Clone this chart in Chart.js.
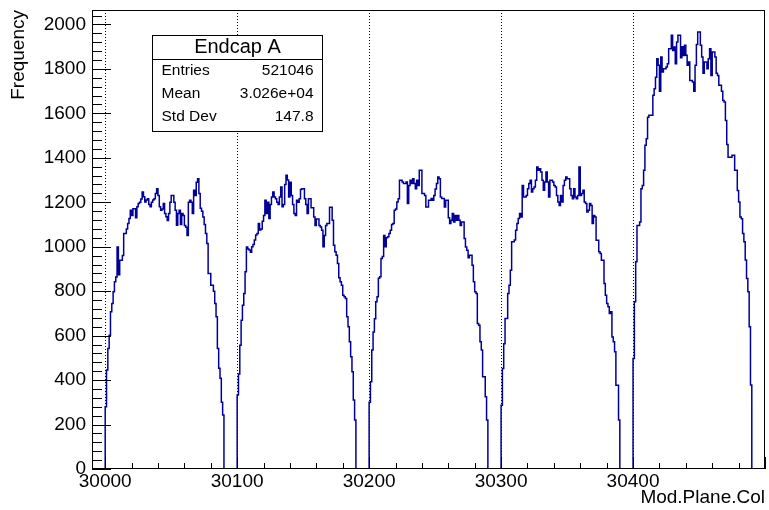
<!DOCTYPE html>
<html>
<head>
<meta charset="utf-8">
<title>Endcap A</title>
<script src="https://cdn.jsdelivr.net/npm/chart.js@4"></script>
<style>
  body { margin: 0; background: #fff; }
  #wrap { width: 769px; height: 510px; }
</style>
</head>
<body>
<div id="wrap"><canvas id="histChart" width="769" height="510"></canvas></div>
<script>
// one bin per column, 90 filled bins per module then 10 empty ones
const moduleStarts = [30000, 30100, 30200, 30300, 30400];

const module1 = [280, 445, 542, 602, 707, 745, 797, 842, 864, 999,
  874, 939, 939, 960, 1059, 1059, 1080, 1104, 1127, 1164,
  1140, 1171, 1171, 1130, 1180, 1194, 1200, 1215, 1246, 1225,
  1201, 1210, 1216, 1190, 1180, 1200, 1210, 1216, 1240, 1261,
  1230, 1180, 1164, 1170, 1194,
  1150, 1135, 1118, 1150, 1200, 1231, 1231, 1200, 1164, 1097,
  1150, 1164, 1100, 1150, 1140, 1095, 1088, 1051, 1200, 1209,
  1200, 1150, 1254, 1230, 1290, 1306, 1240, 1173, 1160, 1134,
  1100, 1059, 1014, 879, 879, 827, 827, 800, 745, 685,
  542, 453, 408, 300, 243];

const module2 = [333, 427, 557, 669, 737, 790, 887, 999, 990, 985,
  975, 1000, 1010, 1030, 1053, 1060, 1104, 1075, 1080, 1115,
  1141, 1209, 1150, 1200, 1127, 1190, 1224, 1246, 1224, 1216,
  1200, 1190, 1224, 1269, 1180, 1190, 1280, 1321, 1300, 1224,
  1290, 1230, 1190, 1149, 1140, 1209,
  1200, 1216, 1257, 1261, 1261, 1216, 1190, 1150, 1216, 1216,
  1175, 1175, 1134, 1096, 1125, 1125, 1096, 1089, 1074, 1000,
  1051, 1096, 1104, 1104, 1178, 1178, 1119, 1007, 977, 962,
  925, 860, 842, 827, 782, 775, 767, 685, 640, 572,
  505, 437, 310, 220];

const module3 = [300, 392, 535, 616, 676, 752, 775, 858, 865, 947,
  956, 1050, 1000, 1040, 1045, 1060, 1074, 1100, 1104, 1164,
  1170, 1201, 1216, 1299, 1299, 1291, 1284, 1284, 1291, 1194,
  1276, 1299, 1284, 1306, 1284, 1261, 1299, 1276, 1344, 1344,
  1239, 1239, 1231, 1179, 1179, 1209,
  1209, 1217, 1209, 1231, 1260, 1284, 1314, 1306, 1224, 1217,
  1217, 1179, 1209, 1209, 1130, 1104, 1119, 1149, 1111, 1141,
  1119, 1141, 1119, 1095, 1111, 1111, 1037, 999, 984, 950,
  962, 962, 917, 842, 797, 790, 655, 647, 572, 535,
  415, 415, 325, 220];

const module4 = [287, 452, 563, 677, 677, 789, 827, 894, 1022, 1022,
  1030, 1074, 1104, 1127, 1149, 1134, 1276, 1224, 1224, 1231,
  1261, 1284, 1299, 1246, 1261, 1269, 1299, 1359, 1344, 1351,
  1336, 1299, 1254, 1291, 1336, 1291, 1224, 1299, 1299, 1291,
  1276, 1269, 1231, 1201, 1186, 1231,
  1201, 1276, 1299, 1314, 1306, 1306, 1261, 1231, 1216, 1261,
  1224, 1216, 1231, 1359, 1231, 1239, 1254, 1201, 1194, 1156,
  1164, 1194, 1186, 1104, 1141, 1134, 1029, 1029, 977, 969,
  939, 939, 834, 782, 745, 730, 700, 707, 594, 572,
  528, 377, 377, 220];

const module5 = [497, 752, 932, 1096, 1096, 1111, 1261, 1276, 1344, 1456,
  1486, 1583, 1591, 1591, 1591, 1681, 1711, 1763, 1846, 1816,
  1700, 1853, 1786, 1801, 1801, 1808, 1823, 1891, 1891, 1951,
  1883, 1898, 1823, 1921, 1951, 1951, 1850, 1900, 1860, 1906,
  1861, 1816, 1831, 1748, 1748, 1741,
  1700, 1816, 1910, 1966, 1966, 1906, 1853, 1780, 1831, 1831,
  1801, 1846, 1891, 1770, 1876, 1876, 1853, 1780, 1770, 1726,
  1726, 1700, 1658, 1651, 1568, 1460, 1403, 1403, 1403, 1411,
  1411, 1344, 1344, 1253, 1201, 1134, 1126, 1060, 1022, 940,
  857, 797, 640, 378];

const modules = [module1, module2, module3, module4, module5];

const xTicks = [30000, 30100, 30200, 30300, 30400];
const yTicks = [0, 200, 400, 600, 800, 1000, 1200, 1400, 1600, 1800, 2000];

const statsTitle = 'Endcap A';
const statsLabels = ['Entries', 'Mean', 'Std Dev'];
const statsValues = ['521046', '3.026e+04', '147.8'];

const FONT = '"Liberation Sans", Arial, Helvetica, sans-serif';

// histogram outline: one point on each bin's lower edge
const points = [{ x: moduleStarts[0], y: 0 }];
moduleStarts.forEach((start, m) => {
  for (let i = 0; i < 100; i++) {
    points.push({ x: start + i, y: i < modules[m].length ? modules[m][i] : 0 });
  }
});
points.push({ x: 30500, y: 0 });

// ROOT style frame, inward ticks, dotted x grid and stats box
const rootFrame = {
  id: 'rootFrame',
  beforeDatasetsDraw(chart) {
    const { ctx, chartArea: a, scales: { x } } = chart;
    ctx.save();
    ctx.strokeStyle = '#000';
    ctx.lineWidth = 1;
    ctx.setLineDash([1, 2]);
    ctx.beginPath();
    xTicks.forEach(v => {
      const px = Math.round(x.getPixelForValue(v)) + 0.5;
      ctx.moveTo(px, a.top);
      ctx.lineTo(px, a.bottom);
    });
    ctx.stroke();
    ctx.restore();
  },
  afterDraw(chart) {
    const { ctx, chartArea: a, scales: { x, y } } = chart;
    ctx.save();
    ctx.strokeStyle = '#000';
    ctx.lineWidth = 1;
    ctx.strokeRect(a.left + 0.5, a.top + 0.5, a.right - a.left - 1, a.bottom - a.top - 1);

    ctx.beginPath();
    for (let v = 0; v <= y.max; v += 40) {
      const py = Math.round(y.getPixelForValue(v)) + 0.5;
      const len = v % 200 === 0 ? 19 : 10;
      ctx.moveTo(a.left, py);
      ctx.lineTo(a.left + len, py);
    }
    for (let v = 30000; v <= x.max; v += 20) {
      const px = Math.round(x.getPixelForValue(v)) + 0.5;
      const len = v % 100 === 0 ? 12 : 6;
      ctx.moveTo(px, a.bottom);
      ctx.lineTo(px, a.bottom - len);
    }
    ctx.stroke();

    // stats box
    const bx = 152.5, by = 35.5, bw = 170, bh = 96;
    ctx.fillStyle = '#fff';
    ctx.fillRect(bx, by, bw, bh);
    ctx.strokeRect(bx, by, bw, bh);
    ctx.beginPath();
    ctx.moveTo(bx, 59.5);
    ctx.lineTo(bx + bw, 59.5);
    ctx.stroke();

    ctx.fillStyle = '#000';
    ctx.textBaseline = 'middle';
    ctx.font = '20px ' + FONT;
    ctx.textAlign = 'center';
    ctx.fillText(statsTitle, bx + bw / 2, 47.5);
    ctx.font = '15.5px ' + FONT;
    statsLabels.forEach((lab, i) => {
      const ty = 70.5 + i * 23;
      ctx.textAlign = 'left';
      ctx.fillText(lab, bx + 9, ty);
      ctx.textAlign = 'right';
      ctx.fillText(statsValues[i], bx + bw - 9, ty);
    });
    ctx.restore();
  }
};

const ctx = document.getElementById('histChart').getContext('2d');
const histChart = new Chart(ctx, {
  type: 'line',
  data: {
    datasets: [{
      label: statsTitle,
      data: points,
      stepped: true,
      borderColor: '#000099',
      borderWidth: 1.5,
      pointRadius: 0,
      fill: false,
      tension: 0
    }]
  },
  options: {
    responsive: false,
    animation: false,
    devicePixelRatio: 1,
    layout: { padding: { top: 10, right: 4, left: 0, bottom: 0 } },
    plugins: {
      legend: { display: false },
      tooltip: { enabled: false }
    },
    scales: {
      x: {
        type: 'linear',
        min: 29990,
        max: 30500,
        grid: { display: false, drawTicks: false },
        border: { display: false },
        afterBuildTicks: axis => { axis.ticks = xTicks.map(v => ({ value: v })); },
        afterFit: axis => {
          axis.height = 41;
          axis.paddingLeft = 0;
          axis.paddingRight = 0;
        },
        ticks: {
          autoSkip: false,
          maxRotation: 0,
          padding: 1,
          color: '#000',
          font: { family: FONT, size: 19 },
          callback: v => String(v)
        },
        title: {
          display: true,
          text: 'Mod.Plane.Col',
          align: 'end',
          color: '#000',
          font: { family: FONT, size: 19 },
          padding: { top: 0, bottom: 1 }
        }
      },
      y: {
        min: 0,
        max: 2065,
        grid: { display: false, drawTicks: false },
        border: { display: false },
        afterBuildTicks: axis => { axis.ticks = yTicks.map(v => ({ value: v })); },
        afterFit: axis => {
          axis.width = 92;
          axis.paddingTop = 0;
          axis.paddingBottom = 0;
        },
        ticks: {
          autoSkip: false,
          padding: 6,
          color: '#000',
          font: { family: FONT, size: 19 },
          callback: v => String(v)
        },
        title: {
          display: true,
          text: 'Frequency',
          align: 'end',
          color: '#000',
          font: { family: FONT, size: 19 },
          padding: { top: 7, bottom: 0 }
        }
      }
    }
  },
  plugins: [rootFrame]
});
</script>
</body>
</html>
